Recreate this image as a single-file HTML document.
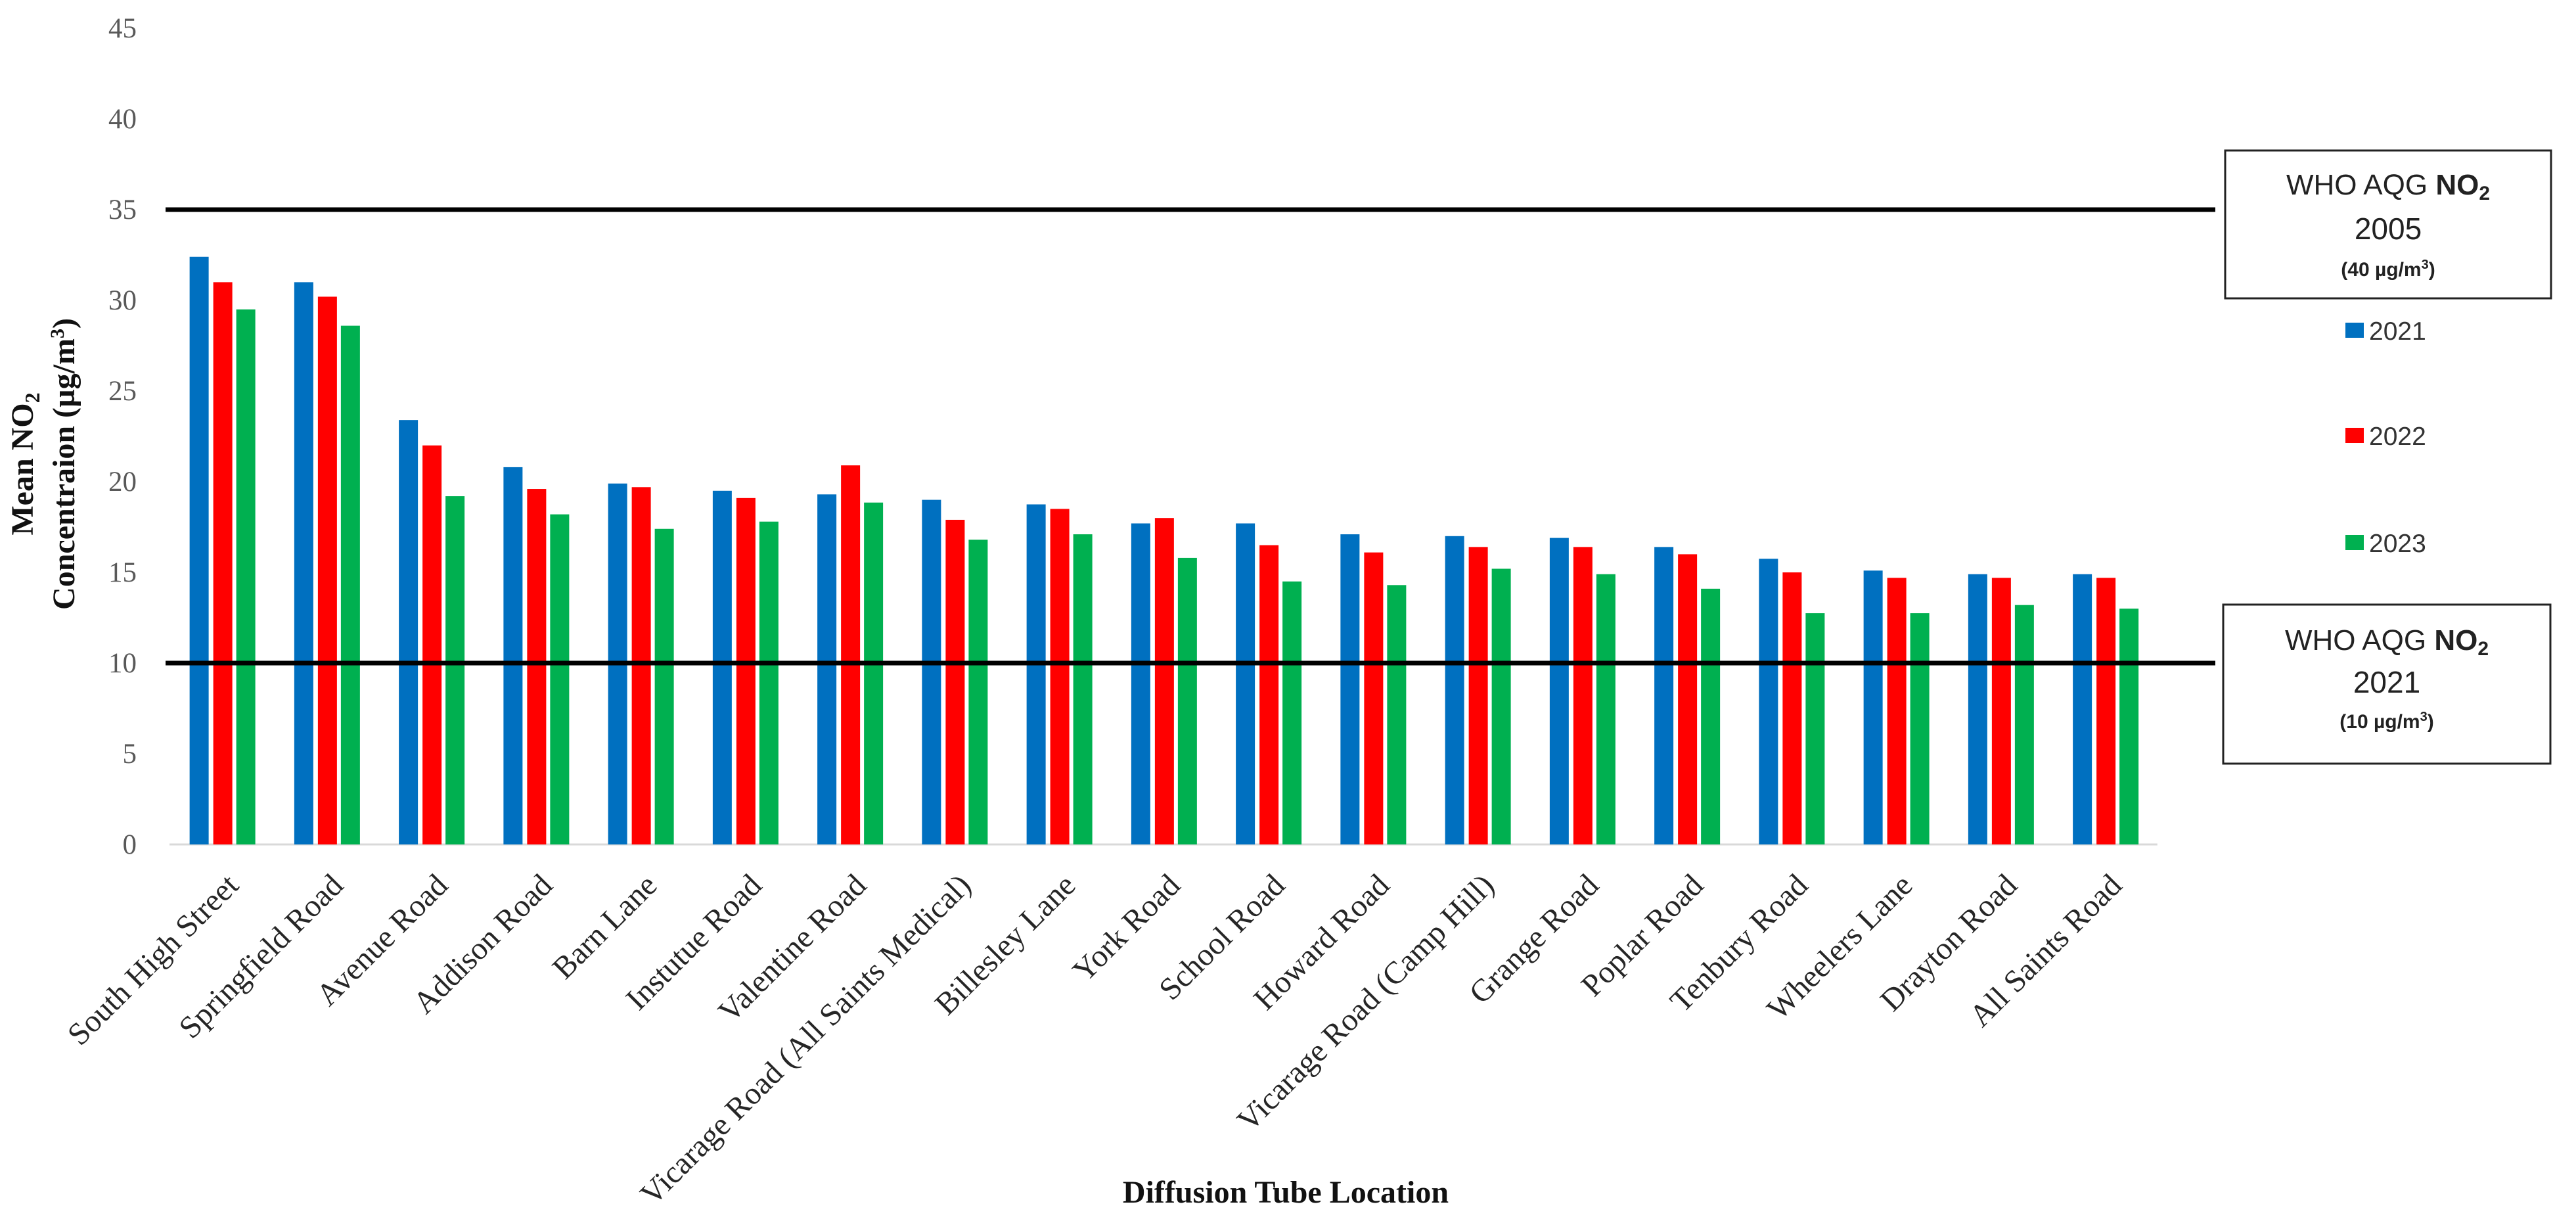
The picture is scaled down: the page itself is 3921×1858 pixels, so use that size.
<!DOCTYPE html>
<html><head><meta charset="utf-8"><style>
html,body{margin:0;padding:0;background:#fff;}
svg{display:block;}
</style></head><body>
<svg id="chart" xmlns="http://www.w3.org/2000/svg" width="3921" height="1858" viewBox="0 0 3921 1858">
<rect x="0" y="0" width="3921" height="1858" fill="#fff"/>
<g id="grid"></g>
<g id="bars"></g>
<g id="xlabels"></g>
<g id="reflines"></g>
<text transform="translate(50,706) rotate(-90)" text-anchor="middle" font-family="Liberation Serif, serif" font-weight="bold" font-size="48" fill="#111">Mean NO<tspan font-size="32" dy="10">2</tspan></text>
<text transform="translate(113,706) rotate(-90)" text-anchor="middle" font-family="Liberation Serif, serif" font-weight="bold" font-size="48" fill="#111">Concentraion (µg/m<tspan font-size="30" dy="-16">3</tspan><tspan dy="16">)</tspan></text>
<text x="1957" y="1830" text-anchor="middle" font-family="Liberation Serif, serif" font-weight="bold" font-size="48" fill="#111">Diffusion Tube Location</text>

<g>
<rect x="3387" y="229" width="496" height="225" fill="#fff" stroke="#222" stroke-width="3"/>
<text x="3635" y="296" text-anchor="middle" font-family="Liberation Sans, sans-serif" font-size="44" fill="#222">WHO AQG <tspan font-weight="bold">NO<tspan font-size="30" dy="8">2</tspan></tspan></text>
<text x="3635" y="364" text-anchor="middle" font-family="Liberation Sans, sans-serif" font-size="46" fill="#222">2005</text>
<text x="3635" y="420" text-anchor="middle" font-family="Liberation Sans, sans-serif" font-weight="bold" font-size="30" fill="#222">(40 µg/m<tspan font-size="20" dy="-11">3</tspan><tspan dy="11">)</tspan></text>
</g>
<g>
<rect x="3384" y="920" width="498" height="242" fill="#fff" stroke="#222" stroke-width="3"/>
<text x="3633" y="989" text-anchor="middle" font-family="Liberation Sans, sans-serif" font-size="44" fill="#222">WHO AQG <tspan font-weight="bold">NO<tspan font-size="30" dy="8">2</tspan></tspan></text>
<text x="3633" y="1054" text-anchor="middle" font-family="Liberation Sans, sans-serif" font-size="46" fill="#222">2021</text>
<text x="3633" y="1108" text-anchor="middle" font-family="Liberation Sans, sans-serif" font-weight="bold" font-size="30" fill="#222">(10 µg/m<tspan font-size="20" dy="-11">3</tspan><tspan dy="11">)</tspan></text>
</g>
<g id="legend"></g>
</svg>
<script>
const categories = ["South High Street","Springfield Road","Avenue Road","Addison Road","Barn Lane","Instutue Road","Valentine Road","Vicarage Road (All Saints Medical)","Billesley Lane","York Road","School Road","Howard Road","Vicarage Road (Camp Hill)","Grange Road","Poplar Road","Tenbury Road","Wheelers Lane","Drayton Road","All Saints Road"];
const v2021 = [32.4,31.0,23.4,20.8,19.9,19.5,19.3,19.0,18.75,17.7,17.7,17.1,17.0,16.9,16.4,15.75,15.1,14.9,14.9];
const v2022 = [31.0,30.2,22.0,19.6,19.7,19.1,20.9,17.9,18.5,18.0,16.5,16.1,16.4,16.4,16.0,15.0,14.7,14.7,14.7];
const v2023 = [29.5,28.6,19.2,18.2,17.4,17.8,18.85,16.8,17.1,15.8,14.5,14.3,15.2,14.9,14.1,12.75,12.75,13.2,13.0];
const seriesNames = ["2021","2022","2023"];
const yTicks = [0,5,10,15,20,25,30,35,40,45];
const refValues = [35,10];

const NS="http://www.w3.org/2000/svg";
const plotLeft=258, step=159.25, y0=1285, pxPerUnit=27.6;
const colors=["#0070c0","#ff0000","#00b050"];
const offsets=[-49,-13,22];
const bw=29;
function yScale(v){return y0 - v*pxPerUnit;}
function xCenter(i){return plotLeft + step*(i+0.5);}
function mk(tag,attrs,parent){const e=document.createElementNS(NS,tag);for(const k in attrs)e.setAttribute(k,attrs[k]);parent.appendChild(e);return e;}

const grid=document.getElementById('grid');
yTicks.forEach(t=>{
  const tx=mk('text',{x:208,y:yScale(t)+14,'text-anchor':'end','font-family':'Liberation Serif, serif','font-size':'43',fill:'#595959'},grid);
  
  
  tx.textContent=t;
});
const base=mk('line',{x1:plotLeft,x2:plotLeft+step*categories.length,y1:y0,y2:y0,stroke:'#d9d9d9','stroke-width':3},grid);



const bars=document.getElementById('bars');
[v2021,v2022,v2023].forEach((vals,s)=>{
  vals.forEach((v,i)=>{
    const r=mk('rect',{x:xCenter(i)+offsets[s],y:yScale(v),width:bw,height:v*pxPerUnit,fill:colors[s]},bars);
    
    
  });
});

const xl=document.getElementById('xlabels');
categories.forEach((c,i)=>{
  const x=xCenter(i)+28, y=1350;
  const t=mk('text',{x:x,y:y,transform:'rotate(-45 '+x+' '+y+')','text-anchor':'end','font-family':'Liberation Serif, serif','font-size':'48',fill:'#262626'},xl);
  
  
  t.textContent=c;
});

const rl=document.getElementById('reflines');
refValues.forEach(v=>{
  const l=mk('line',{x1:252,x2:3372,y1:yScale(v),y2:yScale(v),stroke:'#000','stroke-width':7},rl);
  
  
});

const lg=document.getElementById('legend');
const legendY=[503,663,826];
seriesNames.forEach((n,s)=>{
  const sq=mk('rect',{x:3570,y:legendY[s]-12,width:28,height:23,fill:colors[s]},lg);
  
  
  const t=mk('text',{x:3606,y:legendY[s]+14,'font-family':'Liberation Sans, sans-serif','font-size':'39',fill:'#333'},lg);
  
  
  t.textContent=n;
});
</script>
</body></html>
